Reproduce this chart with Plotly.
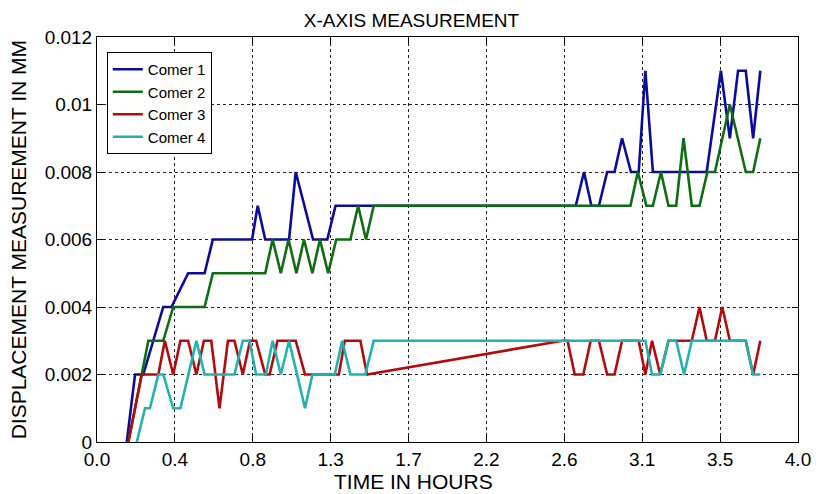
import plotly.graph_objects as go

# Time in hours and displacement in mm for each corner
t1 = [0.170, 0.217, 0.264, 0.378, 0.425, 0.520, 0.614, 0.661, 0.885, 0.917,
      0.960, 1.096, 1.134, 1.233, 1.314, 1.361, 2.732, 2.779, 2.821, 2.864,
      2.911, 2.953, 2.996, 3.047, 3.091, 3.129, 3.172, 3.479, 3.560, 3.611,
      3.658, 3.702, 3.744, 3.785]
v1 = [0, 0.002, 0.002, 0.004, 0.004, 0.005, 0.005, 0.006, 0.006, 0.007,
      0.006, 0.006, 0.008, 0.006, 0.006, 0.007, 0.007, 0.008, 0.007, 0.007,
      0.008, 0.008, 0.009, 0.008, 0.008, 0.011, 0.008, 0.008, 0.011, 0.009,
      0.011, 0.011, 0.009, 0.011]

t2 = [0.179, 0.293, 0.378, 0.435, 0.614, 0.661, 0.960, 1.002, 1.049, 1.093,
      1.138, 1.181, 1.229, 1.272, 1.319, 1.365, 1.446, 1.490, 1.535, 1.579,
      3.044, 3.086, 3.135, 3.172, 3.218, 3.261, 3.305, 3.347, 3.394, 3.438,
      3.483, 3.526, 3.611, 3.702, 3.744, 3.785]
v2 = [0, 0.003, 0.003, 0.004, 0.004, 0.005, 0.005, 0.006, 0.005, 0.006,
      0.005, 0.006, 0.005, 0.006, 0.005, 0.006, 0.006, 0.007, 0.006, 0.007,
      0.007, 0.008, 0.007, 0.007, 0.008, 0.007, 0.007, 0.009, 0.007, 0.007,
      0.008, 0.008, 0.010, 0.008, 0.008, 0.009]

t3 = [0.179, 0.255, 0.350, 0.387, 0.435, 0.476, 0.520, 0.567, 0.610, 0.652,
      0.699, 0.747, 0.784, 0.832, 0.873, 0.908, 0.960, 0.985, 1.030, 1.134,
      1.187, 1.380, 1.414, 1.503, 1.541, 2.656, 2.685, 2.726, 2.775, 2.817,
      2.864, 2.911, 2.953, 2.996, 3.091, 3.129, 3.167, 3.214, 3.261, 3.394,
      3.438, 3.479, 3.526, 3.568, 3.611, 3.702, 3.744, 3.785]
v3 = [0, 0.002, 0.002, 0.003, 0.002, 0.003, 0.003, 0.002, 0.003, 0.003,
      0.001, 0.003, 0.003, 0.002, 0.003, 0.003, 0.002, 0.002, 0.003, 0.003,
      0.002, 0.002, 0.003, 0.003, 0.002, 0.003, 0.003, 0.002, 0.002, 0.003,
      0.003, 0.002, 0.002, 0.003, 0.003, 0.002, 0.003, 0.002, 0.003, 0.003,
      0.004, 0.003, 0.003, 0.004, 0.003, 0.003, 0.002, 0.003]

t4 = [0.227, 0.274, 0.302, 0.350, 0.378, 0.435, 0.476, 0.567, 0.614, 0.784,
      0.832, 0.870, 0.908, 0.964, 1.002, 1.049, 1.096, 1.187, 1.229, 1.357,
      1.399, 1.446, 1.531, 1.579, 3.129, 3.167, 3.214, 3.261, 3.305, 3.350,
      3.394, 3.702, 3.744, 3.785]
v4 = [0, 0.001, 0.001, 0.002, 0.002, 0.001, 0.001, 0.003, 0.002, 0.002,
      0.003, 0.003, 0.002, 0.002, 0.003, 0.002, 0.003, 0.001, 0.002, 0.002,
      0.003, 0.002, 0.002, 0.003, 0.003, 0.002, 0.002, 0.003, 0.003, 0.002,
      0.003, 0.003, 0.002, 0.002]

names = ["Comer 1", "Comer 2", "Comer 3", "Comer 4"]
colors = ["#0c0c9c", "#0f6e12", "#b20c0c", "#22b2b2"]

x_tickvals = [k * 4 / 9 for k in range(10)]
x_ticktext = ["0.0", "0.4", "0.8", "1.3", "1.7", "2.2", "2.6", "3.1", "3.5", "4.0"]
y_tickvals = [0, 0.002, 0.004, 0.006, 0.008, 0.010, 0.012]
y_ticktext = ["0", "0.002", "0.004", "0.006", "0.008", "0.01", "0.012"]

font = "Liberation Sans, Arial, sans-serif"

fig = go.Figure()
for t, v, n, c in zip([t1, t2, t3, t4], [v1, v2, v3, v4], names, colors):
    fig.add_trace(go.Scatter(x=t, y=v, mode="lines", name=n,
                             line=dict(color=c, width=2.6)))

axis_common = dict(showline=True, linecolor="black", linewidth=1, mirror="ticks",
                   ticks="inside", ticklen=6, tickcolor="black", tickwidth=1,
                   showgrid=True, gridcolor="#222", gridwidth=1, griddash="3px,3px",
                   zeroline=False, tickfont=dict(family=font, size=19, color="black"))

fig.update_xaxes(range=[0, 4], tickmode="array", tickvals=x_tickvals,
                 ticktext=x_ticktext, **axis_common)
fig.update_yaxes(range=[0, 0.012], tickmode="array", tickvals=y_tickvals,
                 ticktext=y_ticktext, **axis_common)

fig.update_layout(
    width=823, height=494,
    margin=dict(l=97, r=20, t=37, b=52),
    paper_bgcolor="white", plot_bgcolor="white",
    title=dict(text="X-AXIS MEASUREMENT", x=0.5, xref="container", xanchor="center",
               y=1 - 20 / 494, yref="container", yanchor="middle",
               font=dict(family=font, size=19, color="black")),
    legend=dict(x=0.014, y=0.963, xanchor="left", yanchor="top",
                bgcolor="white", bordercolor="black", borderwidth=1,
                font=dict(family=font, size=15, color="black"),
                itemwidth=30, tracegroupgap=0),
    showlegend=True,
    annotations=[
        dict(text="TIME IN HOURS", xref="paper", yref="paper",
             x=(415 - 96.7) / 706, y=(441.7 - 481) / 405,
             xanchor="center", yanchor="middle", showarrow=False,
             font=dict(family=font, size=21, color="black")),
        dict(text="DISPLACEMENT MEASUREMENT IN MM", xref="paper", yref="paper",
             x=(18 - 96.7) / 706, y=0.5, textangle=-90,
             xanchor="center", yanchor="middle", showarrow=False,
             font=dict(family=font, size=21, color="black")),
    ],
)

fig.write_html("out.html", config={"displayModeBar": False},
               post_script="document.body.style.margin='0';document.body.style.overflow='hidden';")
